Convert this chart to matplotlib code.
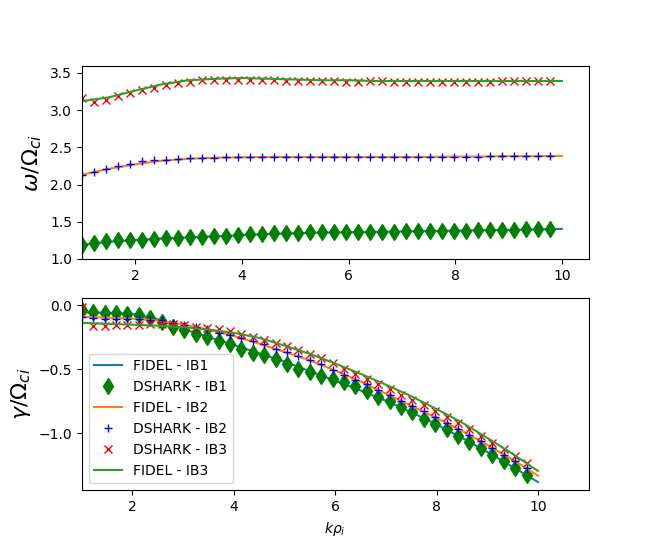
#!/usr/bin/env python
# -*- coding: utf-8 -*-
"""Compares FIDEL and DSHARK dispersion relations for three ion beams."""

import matplotlib
matplotlib.use('Agg')
import matplotlib.pylab as plt


# Wavenumbers of the FIDEL curves.
K_FIDEL = [1.0, 1.5, 2.0, 2.5, 3.0, 3.5, 4.0, 4.5, 5.0, 5.5,
           6.0, 6.5, 7.0, 7.5, 8.0, 8.5, 9.0, 9.5, 10.0]

# Wavenumbers of the DSHARK solutions.
K_DSHARK = [1.0, 1.225, 1.45, 1.675, 1.9, 2.125, 2.35, 2.575, 2.8, 3.025,
            3.25, 3.475, 3.7, 3.925, 4.15, 4.375, 4.6, 4.825, 5.05, 5.275,
            5.5, 5.725, 5.95, 6.175, 6.4, 6.625, 6.85, 7.075, 7.3, 7.525,
            7.75, 7.975, 8.2, 8.425, 8.65, 8.875, 9.1, 9.325, 9.55, 9.775]

# Real frequency (omega / Omega_ci).
OMEGA_FIDEL_IB1 = [1.19, 1.23, 1.255, 1.275, 1.29, 1.305, 1.32, 1.335, 1.345,
                   1.355, 1.36, 1.365, 1.37, 1.375, 1.38, 1.385, 1.39, 1.395,
                   1.405]
OMEGA_FIDEL_IB2 = [2.13, 2.21, 2.27, 2.32, 2.345, 2.36, 2.365, 2.37, 2.37,
                   2.37, 2.37, 2.37, 2.37, 2.37, 2.375, 2.375, 2.38, 2.38,
                   2.385]
OMEGA_FIDEL_IB3 = [3.12, 3.17, 3.26, 3.345, 3.40, 3.42, 3.43, 3.42, 3.41,
                   3.40, 3.40, 3.39, 3.39, 3.39, 3.39, 3.39, 3.39, 3.39, 3.39]

OMEGA_DSHARK_IB1 = [1.19, 1.215, 1.235, 1.26, 1.25, 1.26, 1.27, 1.28, 1.28,
                    1.295, 1.295, 1.305, 1.31, 1.325, 1.335, 1.34, 1.35, 1.355,
                    1.355, 1.36, 1.36, 1.365, 1.365, 1.36, 1.365, 1.36, 1.365,
                    1.37, 1.37, 1.375, 1.37, 1.375, 1.38, 1.385, 1.39, 1.385,
                    1.39, 1.40, 1.40, 1.40]
OMEGA_DSHARK_IB2 = [2.13, 2.165, 2.21, 2.25, 2.28, 2.31, 2.325, 2.335, 2.345,
                    2.355, 2.36, 2.36, 2.365, 2.365, 2.37, 2.37, 2.37, 2.37,
                    2.37, 2.37, 2.37, 2.37, 2.37, 2.37, 2.37, 2.37, 2.37, 2.37,
                    2.37, 2.37, 2.37, 2.37, 2.37, 2.375, 2.38, 2.385, 2.385,
                    2.385, 2.385, 2.385]
OMEGA_DSHARK_IB3 = [3.16, 3.11, 3.14, 3.19, 3.23, 3.27, 3.30, 3.34, 3.365,
                    3.38, 3.40, 3.40, 3.41, 3.41, 3.41, 3.41, 3.40, 3.39, 3.39,
                    3.39, 3.39, 3.39, 3.38, 3.38, 3.39, 3.39, 3.375, 3.375,
                    3.375, 3.375, 3.375, 3.375, 3.375, 3.375, 3.375, 3.39,
                    3.39, 3.39, 3.39, 3.39]

# Growth rate (gamma / Omega_ci).
GAMMA_FIDEL_IB1 = [-0.055, -0.058, -0.068, -0.110, -0.185, -0.250, -0.310,
                   -0.375, -0.440, -0.515, -0.590, -0.665, -0.745, -0.835,
                   -0.930, -1.035, -1.145, -1.260, -1.380]
GAMMA_FIDEL_IB2 = [-0.090, -0.097, -0.105, -0.120, -0.150, -0.190, -0.240,
                   -0.300, -0.365, -0.430, -0.510, -0.595, -0.690, -0.785,
                   -0.880, -0.980, -1.090, -1.205, -1.330]
GAMMA_FIDEL_IB3 = [-0.138, -0.145, -0.152, -0.160, -0.172, -0.190, -0.215,
                   -0.255, -0.315, -0.380, -0.455, -0.535, -0.620, -0.710,
                   -0.810, -0.915, -1.035, -1.160, -1.293]

GAMMA_DSHARK_IB1 = [-0.040, -0.052, -0.057, -0.057, -0.065, -0.073, -0.097,
                    -0.130, -0.170, -0.196, -0.222, -0.248, -0.282, -0.305,
                    -0.339, -0.373, -0.392, -0.423, -0.457, -0.495, -0.522,
                    -0.555, -0.578, -0.600, -0.634, -0.671, -0.713, -0.749,
                    -0.796, -0.836, -0.888, -0.927, -0.966, -1.018, -1.070,
                    -1.115, -1.167, -1.219, -1.272, -1.326]
GAMMA_DSHARK_IB2 = [-0.090, -0.097, -0.104, -0.104, -0.104, -0.110, -0.117,
                    -0.117, -0.138, -0.151, -0.170, -0.188, -0.214, -0.235,
                    -0.256, -0.282, -0.305, -0.339, -0.366, -0.397, -0.426,
                    -0.462, -0.504, -0.543, -0.580, -0.614, -0.658, -0.697,
                    -0.744, -0.786, -0.828, -0.875, -0.919, -0.966, -1.010,
                    -1.063, -1.115, -1.170, -1.219, -1.274]
GAMMA_DSHARK_IB3 = [-0.010, -0.162, -0.162, -0.157, -0.157, -0.151, -0.149,
                    -0.149, -0.144, -0.155, -0.170, -0.178, -0.188, -0.201,
                    -0.227, -0.248, -0.269, -0.295, -0.321, -0.352, -0.379,
                    -0.413, -0.452, -0.495, -0.535, -0.577, -0.618, -0.655,
                    -0.697, -0.736, -0.780, -0.827, -0.874, -0.921, -0.968,
                    -1.020, -1.073, -1.125, -1.180, -1.232]


def plot_panel(ax, fidel, dshark):
  """Draws FIDEL curves and DSHARK markers for IB1..IB3 on `ax`."""
  fidel_ib1, fidel_ib2, fidel_ib3 = fidel
  dshark_ib1, dshark_ib2, dshark_ib3 = dshark
  ax.plot(K_FIDEL, fidel_ib1, color='C0', label='FIDEL - IB1')
  ax.plot(K_DSHARK, dshark_ib1, 'gd', ms=8, label='DSHARK - IB1')
  ax.plot(K_FIDEL, fidel_ib2, color='C1', label='FIDEL - IB2')
  ax.plot(K_DSHARK, dshark_ib2, 'b+', label='DSHARK - IB2')
  ax.plot(K_DSHARK, dshark_ib3, 'rx', label='DSHARK - IB3')
  ax.plot(K_FIDEL, fidel_ib3, color='C2', label='FIDEL - IB3')


def main():
  fig, (ax_top, ax_bot) = plt.subplots(2, 1, figsize=(6.54, 5.51), dpi=100)

  # Real frequency.
  plot_panel(ax_top,
             (OMEGA_FIDEL_IB1, OMEGA_FIDEL_IB2, OMEGA_FIDEL_IB3),
             (OMEGA_DSHARK_IB1, OMEGA_DSHARK_IB2, OMEGA_DSHARK_IB3))
  ax_top.set_xlim(1, 10.5)
  ax_top.set_ylim(1.0, 3.59)
  ax_top.set_ylabel(r'$\omega/\Omega_{ci}$', fontsize=16)

  # Growth rate.
  plot_panel(ax_bot,
             (GAMMA_FIDEL_IB1, GAMMA_FIDEL_IB2, GAMMA_FIDEL_IB3),
             (GAMMA_DSHARK_IB1, GAMMA_DSHARK_IB2, GAMMA_DSHARK_IB3))
  ax_bot.set_xlim(1, 11)
  ax_bot.set_ylim(-1.445, 0.06)
  ax_bot.set_ylabel(r'$\gamma/\Omega_{ci}$', fontsize=16)
  ax_bot.set_xlabel(r'$k\rho_i$')
  ax_bot.legend(loc='lower left')

  fig.savefig('out.png', dpi=100)
  plt.close(fig)


if __name__ == '__main__':
  main()
